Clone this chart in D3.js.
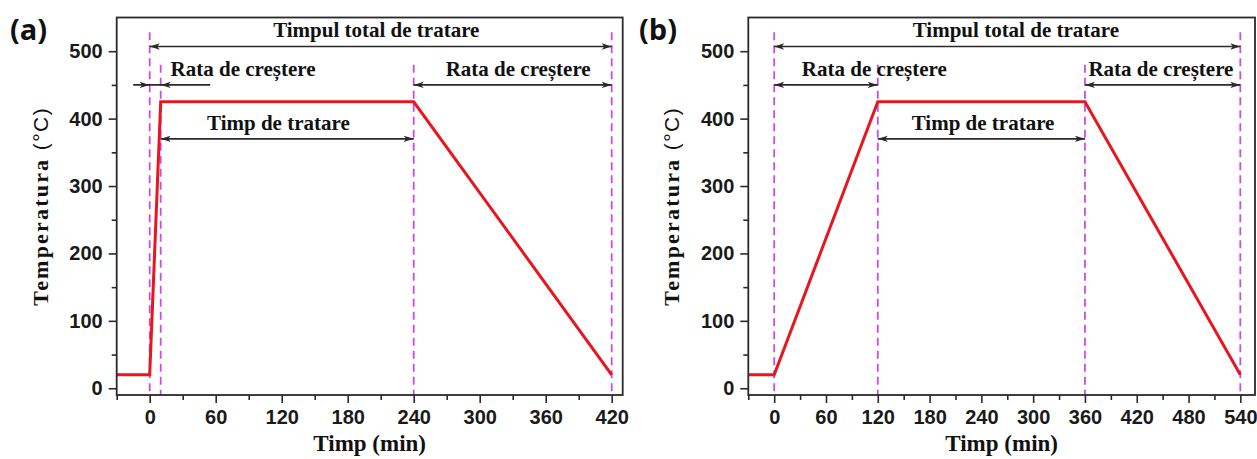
<!DOCTYPE html>
<html>
<head>
<meta charset="utf-8">
<script src="https://cdn.jsdelivr.net/npm/d3@7"></script>
<style>
  html, body { margin: 0; padding: 0; background: #fff; }
  svg { display: block; }
</style>
</head>
<body>
<svg id="chart" width="1257" height="459"></svg>
<script>
// ---- heating schedules: time (min) vs temperature (°C) ----
const timeA = [-30, 0, 10, 240, 420];
const tempA = [20, 20, 425, 425, 20];
const timeB = [-30, 0, 120, 360, 540];
const tempB = [20, 20, 425, 425, 20];

// phase boundaries (min) and the level (°C) where each dashed marker begins
const phaseA = [0, 10, 240, 420];
const phaseTopA = [528, 480, 480, 528];
const phaseB = [0, 120, 360, 540];
const phaseTopB = [528, 480, 480, 528];

// tick labels
const xTicksA = [0, 60, 120, 180, 240, 300, 360, 420];
const xTicksB = [0, 60, 120, 180, 240, 300, 360, 420, 480, 540];
const yTicks = [0, 100, 200, 300, 400, 500];

// interval annotations: label, start, end (min), level (°C), label anchor (min)
const spansA = [
  { text: "Timpul total de tratare", from: 0, to: 420, level: 507, at: 206, kind: "outer" },
  { text: "Rata de creștere", from: 0, to: 10, level: 450, at: 19, kind: "inner", align: "start" },
  { text: "Rata de creștere", from: 240, to: 420, level: 450, at: 335, kind: "outer" },
  { text: "Timp de tratare", from: 10, to: 240, level: 370, at: 117, kind: "outer" }
];
const spansB = [
  { text: "Timpul total de tratare", from: 0, to: 540, level: 507, at: 280, kind: "outer" },
  { text: "Rata de creștere", from: 0, to: 120, level: 450, at: 32, kind: "outer", align: "start" },
  { text: "Rata de creștere", from: 360, to: 540, level: 450, at: 448, kind: "outer" },
  { text: "Timp de tratare", from: 120, to: 360, level: 370, at: 242, kind: "outer" }
];

const svg = d3.select("#chart");
const serif = "'Liberation Serif', 'Times New Roman', serif";
const sans = "'Liberation Sans', Arial, sans-serif";
const lineColor = "#2a2a2a";
const dashColor = "#c94fe0";
const redColor = "#e8161e";

function arrowHead(g, xTip, y, dir) {
  // dir = -1 points left, +1 points right
  const len = 10, hw = 3.2;
  g.append("path")
    .attr("d", `M${xTip},${y} L${xTip - dir * len},${y - hw} L${xTip - dir * len * 0.75},${y} L${xTip - dir * len},${y + hw} Z`)
    .attr("fill", lineColor);
}

function drawPanel(cfg) {
  const { left, right, top, bottom } = cfg.box;
  const x = d3.scaleLinear().domain(cfg.xDomain).range([left, right]);
  const y = d3.scaleLinear().domain([-10, 550]).range([bottom, top]);
  const g = svg.append("g");

  // dashed phase markers
  g.selectAll("line.phase").data(cfg.phase).join("line")
    .attr("class", "phase")
    .attr("x1", d => x(d)).attr("x2", d => x(d))
    .attr("y1", (d, i) => y(cfg.phaseTop[i])).attr("y2", bottom)
    .attr("stroke", dashColor).attr("stroke-width", 1.8)
    .attr("stroke-dasharray", "8,5");

  // temperature profile
  const pts = cfg.time.map((t, i) => [t, cfg.temp[i]]);
  g.append("path")
    .datum(pts)
    .attr("fill", "none")
    .attr("stroke", redColor)
    .attr("stroke-width", 3)
    .attr("stroke-linejoin", "miter")
    .attr("d", d3.line().x(d => x(d[0])).y(d => y(d[1])));

  // annotation arrows & labels
  cfg.spans.forEach(s => {
    const yy = y(s.level);
    if (s.kind === "outer") {
      g.append("line")
        .attr("x1", x(s.from)).attr("x2", x(s.to))
        .attr("y1", yy).attr("y2", yy)
        .attr("stroke", lineColor).attr("stroke-width", 1.6);
      arrowHead(g, x(s.from), yy, -1);
      arrowHead(g, x(s.to), yy, 1);
    } else {
      g.append("line")
        .attr("x1", x(s.from - 15)).attr("x2", x(s.to + 45))
        .attr("y1", yy).attr("y2", yy)
        .attr("stroke", lineColor).attr("stroke-width", 1.6);
      arrowHead(g, x(s.from), yy, 1);
      arrowHead(g, x(s.to), yy, -1);
    }
    g.append("text")
      .attr("x", x(s.at))
      .attr("y", yy - 9)
      .attr("text-anchor", s.align === "start" ? "start" : "middle")
      .attr("font-family", serif)
      .attr("font-weight", "bold")
      .attr("font-size", 21)
      .attr("fill", "#111")
      .text(s.text);
  });

  // axes
  const xAxis = d3.axisBottom(x).tickValues(cfg.xTicks).tickSize(8).tickPadding(7).tickFormat(d3.format("d"));
  const xMinor = d3.axisBottom(x).tickValues(d3.range(-30, cfg.xDomain[1], 60)).tickSize(5).tickFormat("");
  const yAxis = d3.axisLeft(y).tickValues(yTicks).tickSize(8).tickPadding(6).tickFormat(d3.format("d"));
  const yMinor = d3.axisLeft(y).tickValues(d3.range(50, 550, 100)).tickSize(5).tickFormat("");

  g.append("g").attr("transform", `translate(0,${bottom})`).call(xAxis);
  g.append("g").attr("transform", `translate(0,${bottom})`).call(xMinor);
  g.append("g").attr("transform", `translate(${left},0)`).call(yAxis);
  g.append("g").attr("transform", `translate(${left},0)`).call(yMinor);

  g.selectAll(".domain").remove();
  g.selectAll(".tick line").attr("stroke", lineColor).attr("stroke-width", 1.6);
  g.selectAll(".tick text")
    .attr("font-family", sans).attr("font-weight", "bold")
    .attr("font-size", 20).attr("fill", "#1a1a1a");

  // frame
  g.append("rect")
    .attr("x", left).attr("y", top)
    .attr("width", right - left).attr("height", bottom - top)
    .attr("fill", "none").attr("stroke", lineColor).attr("stroke-width", 1.8);

  // axis titles
  g.append("text")
    .attr("x", (left + right) / 2).attr("y", 451)
    .attr("text-anchor", "middle")
    .attr("font-family", serif).attr("font-weight", "bold").attr("font-size", 23)
    .attr("fill", "#111")
    .text("Timp (min)");

  const yt = g.append("text")
    .attr("transform", `translate(${left - 69},${(top + bottom) / 2}) rotate(-90)`)
    .attr("text-anchor", "middle")
    .attr("fill", "#111");
  yt.append("tspan")
    .attr("font-family", serif).attr("font-weight", "bold").attr("font-size", 22)
    .attr("letter-spacing", 2.2)
    .text("Temperatura");
  yt.append("tspan")
    .attr("font-family", sans).attr("font-size", 21)
    .attr("letter-spacing", 1.5)
    .text(" (°C)");

  // panel tag
  svg.append("text")
    .attr("x", cfg.tagX).attr("y", 40)
    .attr("font-family", "'Open Sans', sans-serif").attr("font-weight", "bold")
    .attr("font-size", 29).attr("fill", "#111")
    .text(cfg.tag);
}

drawPanel({
  tag: "(a)", tagX: 10,
  box: { left: 116.7, right: 622.7, top: 17.5, bottom: 395 },
  xDomain: [-30, 430],
  time: timeA, temp: tempA,
  phase: phaseA, phaseTop: phaseTopA,
  xTicks: xTicksA, spans: spansA
});

drawPanel({
  tag: "(b)", tagX: 639,
  box: { left: 748.3, right: 1255, top: 17.5, bottom: 395 },
  xDomain: [-30, 557],
  time: timeB, temp: tempB,
  phase: phaseB, phaseTop: phaseTopB,
  xTicks: xTicksB, spans: spansB
});
</script>
</body>
</html>
